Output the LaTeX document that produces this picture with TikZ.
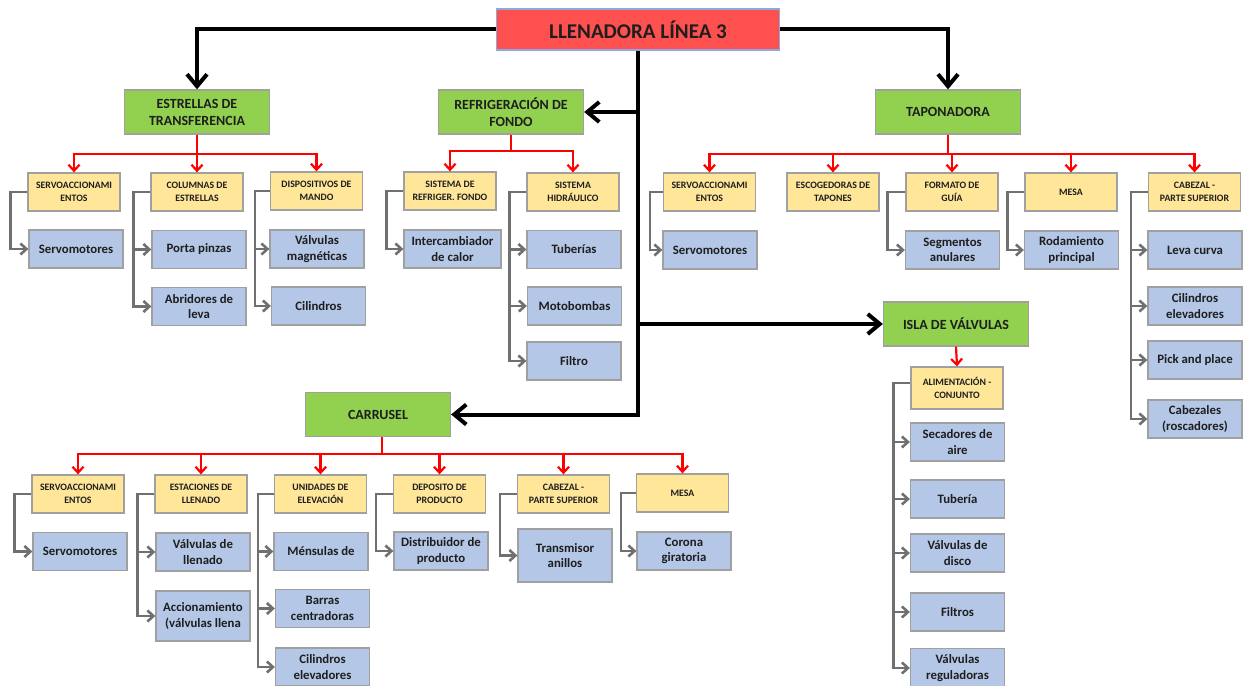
\documentclass[tikz,border=0pt]{standalone}
\usepackage{fontspec}
\setmainfont{Carlito}
\usetikzlibrary{arrows.meta}

\definecolor{rootred}{HTML}{FF5050}
\definecolor{rootedge}{HTML}{8EA9DB}
\definecolor{grn}{HTML}{92D050}
\definecolor{ylw}{HTML}{FFE699}
\definecolor{blu}{HTML}{B4C7E7}
\definecolor{edge}{HTML}{A0A0A0}
\definecolor{conn}{HTML}{707070}
\definecolor{ink}{HTML}{1E1E1E}

\tikzset{
  cellbase/.style={draw=edge, line width=1.3pt, inner sep=0pt, align=center, text=ink},
  rootbox/.style={cellbase, fill=rootred, draw=rootedge, minimum width=283pt, minimum height=41pt,
    font=\bfseries\fontsize{21}{24}\selectfont},
  mainbox/.style={cellbase, fill=grn, minimum width=145pt, minimum height=44pt,
    font=\bfseries\fontsize{14}{17}\selectfont},
  subbox/.style={cellbase, fill=ylw, minimum width=92pt, minimum height=38pt,
    font=\bfseries\fontsize{9.8}{13}\selectfont},
  itembox/.style={cellbase, fill=blu, minimum width=94pt, minimum height=38pt,
    font=\bfseries\fontsize{12.8}{15.5}\selectfont},
  trunk/.style={line width=4pt, -{Straight Barb[length=12pt,width=20pt]}},
  branch/.style={red, line width=2.2pt, -{Straight Barb[length=6pt,width=11pt]}},
  leaf/.style={conn, line width=2.6pt, -{Straight Barb[length=6pt,width=11pt]}},
}

\begin{document}
\begin{tikzpicture}[x=1pt,y=-1pt]
\useasboundingbox (0,0) rectangle (1244,685);

% ---------- top level ----------
\node[rootbox] (root) at (638,29.5) {LLENADORA LÍNEA 3};

\node[mainbox] (estr) at (197,112) {ESTRELLAS DE\\TRANSFERENCIA};
\node[mainbox] (refr) at (511,112) {REFRIGERACIÓN DE\\FONDO};
\node[mainbox] (tapo) at (948,112) {TAPONADORA};
\node[mainbox] (isla) at (956,324) {ISLA DE VÁLVULAS};
\node[mainbox] (carr) at (378,414.5) {CARRUSEL};

% ---------- estrellas de transferencia ----------
\node[subbox] (e1) at (74,192)    {SERVOACCIONAMI\\ENTOS};
\node[subbox] (e2) at (197,192)   {COLUMNAS DE\\ESTRELLAS};
\node[subbox] (e3) at (316.5,191) {DISPOSITIVOS DE\\MANDO};
\node[itembox] (e1a) at (76,249)    {Servomotores};
\node[itembox] (e2a) at (199,249.5) {Porta pinzas};
\node[itembox] (e2b) at (199,306.5) {Abridores de\\leva};
\node[itembox] (e3a) at (317,249)   {Válvulas\\magnéticas};
\node[itembox] (e3b) at (318.5,306) {Cilindros};

% ---------- refrigeración de fondo ----------
\node[subbox] (r1) at (450,191) {SISTEMA DE\\REFRIGER. FONDO};
\node[subbox] (r2) at (573,192) {SISTEMA\\HIDRÁULICO};
\node[itembox, minimum width=97pt] (r1a) at (452.5,249) {Intercambiador\\de calor};
\node[itembox] (r2a) at (574,249.5) {Tuberías};
\node[itembox] (r2b) at (574.5,306) {Motobombas};
\node[itembox] (r2c) at (574,361)   {Filtro};

% ---------- taponadora ----------
\node[subbox] (t1) at (709.5,192)  {SERVOACCIONAMI\\ENTOS};
\node[subbox] (t2) at (833,192)    {ESCOGEDORAS DE\\TAPONES};
\node[subbox] (t3) at (952,192)    {FORMATO DE\\GUÍA};
\node[subbox] (t4) at (1071,192)   {MESA};
\node[subbox] (t5) at (1194.5,192) {CABEZAL -\\PARTE SUPERIOR};
\node[itembox] (t1a) at (710,250)    {Servomotores};
\node[itembox] (t3a) at (952.5,250)  {Segmentos\\anulares};
\node[itembox] (t4a) at (1071.5,250) {Rodamiento\\principal};
\node[itembox] (t5a) at (1195,250)   {Leva curva};
\node[itembox] (t5b) at (1195,306)   {Cilindros\\elevadores};
\node[itembox] (t5c) at (1195,360)   {Pick and place};
\node[itembox] (t5d) at (1195,419)   {Cabezales\\(roscadores)};

% ---------- isla de válvulas ----------
\node[subbox, minimum height=42pt] (i1) at (957,388) {ALIMENTACIÓN -\\CONJUNTO};
\node[itembox] (i1a) at (957.5,442) {Secadores de\\aire};
\node[itembox] (i1b) at (957.5,499) {Tubería};
\node[itembox] (i1c) at (957.5,553) {Válvulas de\\disco};
\node[itembox] (i1d) at (957.5,612) {Filtros};
\node[itembox, minimum height=39pt] (i1e) at (957.5,668) {Válvulas\\reguladoras};

% ---------- carrusel ----------
\node[subbox] (c1) at (78,494)    {SERVOACCIONAMI\\ENTOS};
\node[subbox] (c2) at (201,494)   {ESTACIONES DE\\LLENADO};
\node[subbox] (c3) at (320.5,494) {UNIDADES DE\\ELEVACIÓN};
\node[subbox] (c4) at (439.5,494) {DEPOSITO DE\\PRODUCTO};
\node[subbox] (c5) at (563.5,494) {CABEZAL -\\PARTE SUPERIOR};
\node[subbox] (c6) at (682.5,493) {MESA};
\node[itembox] (c1a) at (80,551.5)  {Servomotores};
\node[itembox] (c2a) at (203,552)   {Válvulas de\\llenado};
\node[itembox, minimum height=50pt] (c2b) at (203,616) {Accionamiento\\(válvulas llena};
\node[itembox] (c3a) at (321,551.5) {Ménsulas de};
\node[itembox] (c3b) at (322.5,608.5) {Barras\\centradoras};
\node[itembox] (c3c) at (322.5,667) {Cilindros\\elevadores};
\node[itembox] (c4a) at (441,551)   {Distribuidor de\\producto};
\node[itembox, minimum height=53pt] (c5a) at (565,555.5) {Transmisor\\anillos};
\node[itembox] (c6a) at (684,551)   {Corona\\giratoria};

% ---------- black trunk connectors ----------
\draw[trunk] (root.west) -| (estr.north);
\draw[trunk] (root.east) -| (tapo.north);
\draw[trunk] (root.south) |- (carr.east);
\draw[trunk] (root.south |- refr.east) -- (refr.east);
\draw[trunk] (root.south |- isla.west) -- (isla.west);

% ---------- red branch connectors ----------
\foreach \k in {e1,e2,e3}{\draw[branch] (estr.south) -- ++(0,19) -| (\k.north);}
\foreach \k in {r1,r2}{\draw[branch] (refr.south) -- ++(0,16) -| (\k.north);}
\foreach \k in {t1,t2,t3,t4,t5}{\draw[branch] (tapo.south) -- ++(0,19) -| (\k.north);}
\draw[branch] (isla.south) -- (i1.north);
\foreach \k in {c1,c2,c3,c4,c5,c6}{\draw[branch] ([xshift=4pt]carr.south) -- ++(0,17) -| (\k.north);}

% ---------- gray leaf connectors ----------
\draw[leaf] (e1.west) -- ++(-17,0) |- (e1a.west);
\draw[leaf] (e2.west) -- ++(-17,0) |- (e2b.west);
\draw[leaf] ([xshift=-17pt]e2.west) |- (e2a.west);
\draw[leaf] (e3.west) -- ++(-15,0) |- (e3b.west);
\draw[leaf] ([xshift=-15pt]e3.west) |- (e3a.west);

\draw[leaf] (r1.west) -- ++(-17,0) |- (r1a.west);
\draw[leaf] (r2.west) -- ++(-17,0) |- (r2c.west);
\draw[leaf] ([xshift=-17pt]r2.west) |- (r2a.west);
\draw[leaf] ([xshift=-17pt]r2.west) |- (r2b.west);

\draw[leaf] (t1.west) -- ++(-13,0) |- (t1a.west);
\draw[leaf] (t3.west) -- ++(-18,0) |- (t3a.west);
\draw[leaf] (t4.west) -- ++(-17,0) |- (t4a.west);
\draw[leaf] (t5.west) -- ++(-17,0) |- (t5d.west);
\foreach \k in {t5a,t5b,t5c}{\draw[leaf] ([xshift=-17pt]t5.west) |- (\k.west);}

\draw[leaf] ([yshift=5pt]i1.west) -- ++(-17,0) |- (i1e.west);
\foreach \k in {i1a,i1b,i1c,i1d}{\draw[leaf] ([xshift=-17pt,yshift=5pt]i1.west) |- (\k.west);}

\draw[leaf] (c1.west) -- ++(-17,0) |- (c1a.west);
\draw[leaf] (c2.west) -- ++(-17,0) |- (c2b.west);
\draw[leaf] ([xshift=-17pt]c2.west) |- (c2a.west);
\draw[leaf] (c3.west) -- ++(-16,0) |- (c3c.west);
\draw[leaf] ([xshift=-16pt]c3.west) |- (c3a.west);
\draw[leaf] ([xshift=-16pt]c3.west) |- (c3b.west);
\draw[leaf] (c4.west) -- ++(-17,0) |- (c4a.west);
\draw[leaf] (c5.west) -- ++(-17,0) |- (c5a.west);
\draw[leaf] (c6.west) -- ++(-15,0) |- (c6a.west);
\end{tikzpicture}
\end{document}
